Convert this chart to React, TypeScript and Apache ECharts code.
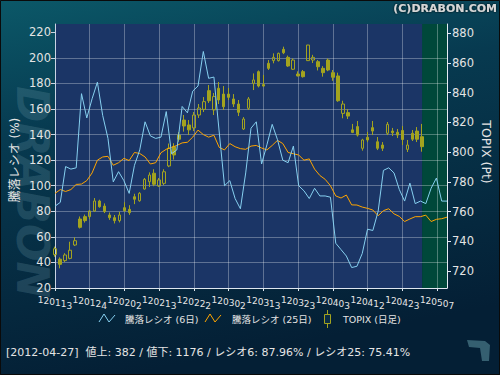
import React, { useEffect, useRef } from "react";
import * as echarts from "echarts";

const dates: string[] = [
  "2012-01-13","2012-01-16","2012-01-17","2012-01-18","2012-01-19","2012-01-20","2012-01-23","2012-01-24","2012-01-25","2012-01-26","2012-01-27","2012-01-30","2012-01-31",
  "2012-02-01","2012-02-02","2012-02-03","2012-02-06","2012-02-07","2012-02-08","2012-02-09","2012-02-10","2012-02-13","2012-02-14","2012-02-15","2012-02-16","2012-02-17","2012-02-20","2012-02-21","2012-02-22","2012-02-23","2012-02-24","2012-02-27","2012-02-28","2012-02-29",
  "2012-03-01","2012-03-02","2012-03-05","2012-03-06","2012-03-07","2012-03-08","2012-03-09","2012-03-12","2012-03-13","2012-03-14","2012-03-15","2012-03-16","2012-03-19","2012-03-21","2012-03-22","2012-03-23","2012-03-26","2012-03-27","2012-03-28","2012-03-29","2012-03-30",
  "2012-04-02","2012-04-03","2012-04-04","2012-04-05","2012-04-06","2012-04-09","2012-04-10","2012-04-11","2012-04-12","2012-04-13","2012-04-16","2012-04-17","2012-04-18","2012-04-19","2012-04-20","2012-04-23","2012-04-24","2012-04-25","2012-04-26","2012-04-27",
  "2012-05-01","2012-05-02","2012-05-07","2012-05-08","2012-05-09"
];

const lastDataDate = "2012-04-27";

const ratio6: number[] = [
  84, 87, 115, 113, 114, 172, 153, 168, 181, 155,
  137, 103, 111, 104, 94, 116, 128, 150, 139, 137,
  138, 158, 125, 128, 162, 157, 174, 178, 205, 184,
  185, 142, 100, 104, 90, 82, 110, 145, 150, 117,
  132, 148, 136, 120, 118, 131, 100, 96, 90, 98,
  92, 92, 91, 55, 50, 45, 36, 37, 47, 66,
  65, 80, 112, 114, 110, 97, 88, 102, 86, 88,
  86, 98, 106, 88, 87.96
];

const ratio25: number[] = [
  94, 97, 95.5, 97, 101, 101.3, 104, 110, 120, 122.5,
  123, 116, 118, 121.4, 119.7, 126, 125.2, 122.5, 117, 118,
  125.8, 128.5, 130, 131.5, 133.5, 134, 138, 143.5, 140, 138,
  139.5, 130, 128, 133, 130.5, 129, 128.5, 131, 131.5, 129.5,
  128, 131.5, 135.5, 133, 126, 125, 124, 120, 121, 113,
  108, 105, 100, 92, 90.4, 92.7, 85, 84.9, 83.3, 82.3,
  81, 76.5, 80.5, 82, 78, 76, 72, 74, 75.8, 75.8,
  77, 72, 73.7, 74.2, 75.41
];

// [open, close, low, high]
const topix: number[][] = [
  [731, 735, 729.6, 736.4], [728, 724.5, 721.8, 729.2], [727, 730.8, 726, 732], [728.5, 734, 727.9, 739.7], [737.5, 740.4, 736.8, 742.7],
  [755, 749.4, 748.6, 756.7], [756.6, 753.9, 752.6, 758], [756.6, 760.4, 755, 761], [760.4, 767.1, 759.7, 769.1], [767.1, 763.3, 762.6, 768],
  [763.7, 760, 759, 765.5], [757.7, 755.9, 754.4, 759.4], [755.9, 753.9, 752, 757.7], [753.9, 757.7, 752.7, 759.8], [762.6, 760.6, 759.8, 766.3],
  [761.5, 759.3, 757.8, 764.3], [770, 768.3, 765, 772], [767.3, 772.3, 766.6, 773.1], [775.2, 781.7, 774.8, 782.6], [780.1, 784.6, 776.5, 786.4],
  [785.8, 778.4, 777.1, 788.5], [777.2, 781.3, 776.6, 782.6], [779, 786.8, 777.8, 788.5], [790.7, 802.6, 789.9, 805.8], [803.7, 798.1, 795, 806],
  [811.5, 808.7, 807, 813.5], [821.6, 817.6, 813.8, 825], [818.3, 815, 811.5, 821.6], [816.3, 825, 814.2, 827], [825, 829.7, 823, 832.4],
  [828.8, 834, 827, 837.1], [841.4, 834.6, 833.1, 845.2], [828.4, 837.4, 825, 839.8], [843, 835.1, 832.4, 847.2], [839.1, 830.6, 828.4, 844.5],
  [839.1, 836.9, 835.1, 843.2], [835.8, 832.4, 830.4, 839.1], [832.4, 826.8, 824.3, 835.1], [815.6, 822.3, 814.9, 823.6], [829.5, 835.8, 828.4, 837.1],
  [846.3, 848.6, 841.8, 853], [854.2, 844.5, 843.6, 855], [845.5, 844.5, 844, 852], [859.8, 856.4, 855.3, 862], [861.6, 863.8, 859.8, 866.5],
  [861.6, 866.5, 861, 867], [869.2, 866.9, 866, 871], [863.8, 858, 857.4, 865], [855.8, 862, 855.3, 863.1], [852.6, 851.3, 851, 854.4],
  [854.2, 850.8, 850.2, 855.3], [861.6, 872.1, 861.4, 872.2], [862, 863.8, 860, 865.5], [860.9, 857.5, 855, 862], [856.4, 853.5, 850.8, 857.9],
  [862, 855.3, 854.5, 863], [853.5, 850.4, 848, 855.3], [851.3, 834.6, 833.9, 853.5], [826.1, 832.4, 822.8, 834.6], [826.6, 824.3, 822.3, 829],
  [815, 813.3, 812.8, 819], [817.2, 811.5, 810.5, 821], [802.6, 808.2, 801, 809], [810, 808.2, 806.8, 813.6], [816.5, 814.2, 811.5, 821],
  [807, 802.6, 801.4, 810.2], [804.8, 802.6, 800.8, 806.8], [812.7, 818.7, 811.5, 820.3], [814.2, 813.1, 810.9, 816.3], [813.4, 811.5, 809.5, 815.6],
  [814.6, 808.5, 804.8, 817.6], [801.9, 804.8, 800.1, 808.2], [812.7, 808.7, 807.5, 814.9], [814.2, 808.7, 806.8, 816.9], [810.4, 803.7, 800.3, 819]
];

const leftTicks = [20, 40, 60, 80, 100, 120, 140, 160, 180, 200, 220];
const rightTicks = [720, 740, 760, 780, 800, 820, 840, 860, 880];

const legendNames = ["騰落レシオ (6日)", "騰落レシオ (25日)", "TOPIX (日足)"];
const leftAxisName = "騰落レシオ (%)";
const rightAxisName = "TOPIX (Pt)";
const infoText = "[2012-04-27]  値上: 382 / 値下: 1176 / レシオ6: 87.96% / レシオ25: 75.41%";
const copyright = "(C)DRABON.COM";

const FONT = "DejaVu Sans, Noto Sans CJK JP, sans-serif";
const BLUE = "#86d0f0";
const ORANGE = "#ffa500";
const OLIVE = "#a3a31f";
const TXT = "#e4e4e4";

const charShifts = [-3, -2, -1, 0.5, 1.5, 3];
const rich: Record<string, any> = {};
charShifts.forEach((s, i) => {
  rich["r" + i] = {
    fontSize: 9,
    fontFamily: FONT,
    color: TXT,
    padding: [Math.max(0, 2 * s), 0, Math.max(0, -2 * s), 0],
  };
});

const every7 = (i: number) => i % 7 === 0;

export default function App() {
  const ref = useRef<HTMLDivElement>(null);
  useEffect(() => {
    if (!ref.current) return;
    const chart = echarts.init(ref.current, null, { renderer: "svg" });
    const legendY = 319;
    const infoY = 352;
    const option: any = {
      animation: false,
      backgroundColor: {
        type: "linear", x: 0, y: 0, x2: 0.25, y2: 1,
        colorStops: [
          { offset: 0, color: "#0b5868" },
          { offset: 0.35, color: "#073a50" },
          { offset: 1, color: "#041f35" },
        ],
      },
      grid: { left: 55, right: 53, top: 24, bottom: 87, show: false },
      xAxis: [
        {
          type: "category",
          data: dates,
          boundaryGap: false,
          axisLine: { show: true, lineStyle: { color: "#dfe6ef", width: 1 } },
          axisTick: { show: true, interval: every7, length: 3, lineStyle: { color: "#dfe6ef" } },
          splitLine: { show: true, interval: every7, lineStyle: { color: "rgba(255,255,255,0.3)", width: 1 } },
          axisLabel: {
            interval: 0,
            hideOverlap: false,
            margin: 7,
            formatter: (v: string, idx: number) =>
              every7(idx)
                ? v.slice(2).replace(/-/g, "").split("").map((c, i) => `{r${i}|${c}}`).join("")
                : "",
            rich,
          },
        },
        {
          type: "category",
          data: dates.slice(0, ratio6.length),
          boundaryGap: false,
          show: false,
        },
      ],
      yAxis: [
        {
          type: "value",
          position: "left",
          min: 20,
          max: 226.5,
          interval: 20,
          axisLine: { show: true, lineStyle: { color: "#c9d3e3" } },
          axisTick: { show: true, length: 4, customValues: leftTicks, lineStyle: { color: "#c9d3e3" } },
          axisLabel: { customValues: leftTicks, color: TXT, fontSize: 11.5, fontFamily: FONT, margin: 4 },
          splitLine: { show: true, showMaxLine: false, lineStyle: { color: "rgba(255,255,255,0.3)", width: 1 } },
        },
        {
          type: "value",
          position: "right",
          min: 708.56,
          max: 886.26,
          axisLine: { show: true, lineStyle: { color: "#e6ecf3" } },
          axisTick: { show: true, length: 4, customValues: rightTicks, lineStyle: { color: "#e6ecf3" } },
          axisLabel: { customValues: rightTicks, color: TXT, fontSize: 11.5, fontFamily: FONT, margin: 5 },
          splitLine: { show: false },
        },
      ],
      series: [
        {
          type: "line",
          xAxisIndex: 0,
          yAxisIndex: 0,
          data: [],
          silent: true,
          markArea: {
            silent: true,
            z: -1,
            data: [
              [{ xAxis: dates[0], itemStyle: { color: "#1b3566" } }, { xAxis: lastDataDate }],
              [{ xAxis: lastDataDate, itemStyle: { color: "#00483a" } }, { xAxis: dates[dates.length - 1] }],
            ],
          },
        },
        {
          name: legendNames[2],
          type: "candlestick",
          xAxisIndex: 0,
          yAxisIndex: 1,
          data: topix,
          barWidth: 3,
          itemStyle: {
            color: "rgba(0,0,0,0)",
            color0: OLIVE,
            borderColor: OLIVE,
            borderColor0: OLIVE,
            borderWidth: 1,
          },
        },
        {
          name: legendNames[1],
          type: "line",
          xAxisIndex: 1,
          yAxisIndex: 0,
          data: ratio25,
          symbol: "none",
          lineStyle: { color: ORANGE, width: 1 },
          itemStyle: { color: ORANGE },
        },
        {
          name: legendNames[0],
          type: "line",
          xAxisIndex: 1,
          yAxisIndex: 0,
          data: ratio6,
          symbol: "none",
          lineStyle: { color: BLUE, width: 1 },
          itemStyle: { color: BLUE },
        },
      ],
      graphic: {
        elements: [
          {
            type: "text", x: 32, y: 192, rotation: -Math.PI / 2, z: -10, silent: true,
            style: { text: "DRABON", fill: "rgba(120,165,180,0.22)", font: "italic bold 44px DejaVu Sans", align: "center", verticalAlign: "middle", textAlign: "center", textVerticalAlign: "middle" },
          },
          {
            type: "text", x: 497, y: 8, silent: true,
            style: { text: copyright, fill: "#d6d6d6", font: "bold 11px DejaVu Sans", align: "right", verticalAlign: "middle", textAlign: "right", textVerticalAlign: "middle", textShadowColor: "#000", textShadowBlur: 2 },
          },
          {
            type: "text", x: 15, y: 160, rotation: Math.PI / 2, silent: true,
            style: { text: leftAxisName, fill: TXT, fontSize: 12, fontFamily: FONT, align: "center", verticalAlign: "middle", textAlign: "center", textVerticalAlign: "middle" },
          },
          {
            type: "text", x: 486, y: 152, rotation: -Math.PI / 2, silent: true,
            style: { text: rightAxisName, fill: TXT, fontSize: 12.5, fontFamily: FONT, align: "center", verticalAlign: "middle", textAlign: "center", textVerticalAlign: "middle" },
          },
          {
            type: "polyline", silent: true,
            shape: { points: [[99, legendY + 3], [104, legendY - 5], [109, legendY + 3], [115, legendY - 4]] },
            style: { stroke: BLUE, lineWidth: 1, fill: "none" },
          },
          {
            type: "text", x: 125, y: legendY, silent: true,
            style: { text: legendNames[0], fill: TXT, fontSize: 9.5, fontFamily: FONT, align: "left", verticalAlign: "middle", textAlign: "left", textVerticalAlign: "middle" },
          },
          {
            type: "polyline", silent: true,
            shape: { points: [[205, legendY + 3], [210, legendY - 5], [215, legendY + 3], [221, legendY - 4]] },
            style: { stroke: ORANGE, lineWidth: 1, fill: "none" },
          },
          {
            type: "text", x: 232, y: legendY, silent: true,
            style: { text: legendNames[1], fill: TXT, fontSize: 9.5, fontFamily: FONT, align: "left", verticalAlign: "middle", textAlign: "left", textVerticalAlign: "middle" },
          },
          {
            type: "line", silent: true,
            shape: { x1: 327.5, y1: legendY - 9, x2: 327.5, y2: legendY + 9 },
            style: { stroke: OLIVE, lineWidth: 1 },
          },
          {
            type: "rect", silent: true,
            shape: { x: 324.5, y: legendY - 4.5, width: 6, height: 9 },
            style: { stroke: OLIVE, lineWidth: 1, fill: "#0a2c44" },
          },
          {
            type: "text", x: 343, y: legendY, silent: true,
            style: { text: legendNames[2], fill: TXT, fontSize: 9.5, fontFamily: FONT, align: "left", verticalAlign: "middle", textAlign: "left", textVerticalAlign: "middle" },
          },
          {
            type: "text", x: 6, y: infoY, silent: true,
            style: { text: infoText, fill: TXT, fontSize: 11, fontFamily: FONT, align: "left", verticalAlign: "middle", textAlign: "left", textVerticalAlign: "middle" },
          },
          {
            type: "polygon", silent: true,
            shape: { points: [[467, 340], [485, 341], [490, 345], [489, 361], [482, 361], [480, 348], [469, 347]] },
            style: { fill: "#355f70" },
          },
          {
            type: "rect", silent: true, z: 100,
            shape: { x: 0.5, y: 0.5, width: 499, height: 374 },
            style: { fill: "none", stroke: "#0a0a0a", lineWidth: 1 },
          },
        ],
      },
    };
    chart.setOption(option);
    return () => chart.dispose();
  }, []);
  return <div ref={ref} style={{ position: "absolute", left: 0, top: 0, width: 500, height: 375 }} />;
}
